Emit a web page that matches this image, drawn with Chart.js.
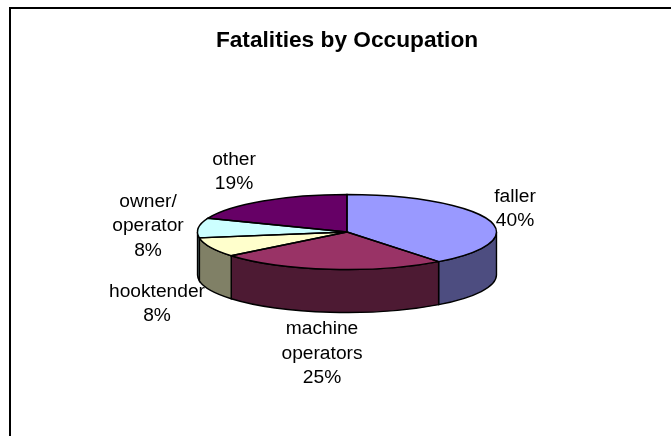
<!DOCTYPE html>
<html>
<head>
<meta charset="utf-8">
<title>Fatalities by Occupation</title>
<script src="https://cdn.jsdelivr.net/npm/chart.js@4"></script>
<style>
  html, body { margin: 0; padding: 0; background: #fff; overflow: hidden; }
  #frame { position: absolute; left: 9px; top: 7px; width: 680px; height: 450px;
           border-left: 2px solid #000; border-top: 2px solid #000; }
</style>
</head>
<body>
<div id="frame"><canvas id="pie" width="680" height="450"></canvas></div>
<script>
const categories = ['faller', 'machine operators', 'hooktender', 'owner/ operator', 'other'];
// they round to the printed percentages
const shares = [39.5, 24.6, 8.4, 8.5, 19];
const topColors = ['#9999FF', '#993366', '#FFFFCC', '#CCFFFF', '#660066'];
const sideColors = ['#4D4D80', '#4D1A33', '#808066', '#668080', '#330033'];
const labelLines = [['faller', '40%'], ['machine', 'operators', '25%'], ['hooktender', '8%'], ['owner/', 'operator', '8%'], ['other', '19%']];

// label block centres, in canvas pixels
const labelAnchors = [[504, 200], [311, 344.5], [146, 295], [137, 217], [223, 163]];

const RY = 37.5, DEPTH = 43;

function tracePie(ctx, el) {
  ctx.beginPath();
  ctx.moveTo(el.x, el.y);
  ctx.ellipse(el.x, el.y, el.outerRadius, RY, 0, el.startAngle, el.endAngle);
  ctx.closePath();
}

const pie3d = {
  id: 'pie3d',
  beforeDatasetDraw(chart) {
    const ctx = chart.ctx;
    const arcs = chart.getDatasetMeta(0).data;
    // side wall, only the front half of the ellipse shows
    arcs.forEach((el, i) => {
      const a = Math.max(el.startAngle, 0);
      const b = Math.min(el.endAngle, Math.PI);
      if (b <= a) return;
      const rx = el.outerRadius;
      ctx.beginPath();
      ctx.ellipse(el.x, el.y, rx, RY, 0, a, b);
      ctx.lineTo(el.x + rx * Math.cos(b), el.y + DEPTH + RY * Math.sin(b));
      ctx.ellipse(el.x, el.y + DEPTH, rx, RY, 0, b, a, true);
      ctx.closePath();
      ctx.fillStyle = sideColors[i];
      ctx.fill();
      ctx.lineWidth = 1.4;
      ctx.strokeStyle = '#000';
      ctx.stroke();
    });
    // library draws the top face, squashed into the ellipse
    const el = arcs[0];
    ctx.save();
    ctx.translate(el.x, el.y);
    ctx.scale(1, RY / el.outerRadius);
    ctx.translate(-el.x, -el.y);
  },
  afterDatasetDraw(chart) {
    const ctx = chart.ctx;
    ctx.restore();
    chart.getDatasetMeta(0).data.forEach(el => {
      tracePie(ctx, el);
      ctx.lineWidth = 1.4;
      ctx.strokeStyle = '#000';
      ctx.stroke();
    });
  },
  afterDraw(chart) {
    const ctx = chart.ctx;
    ctx.save();
    ctx.font = '19.2px "Liberation Sans"';
    ctx.fillStyle = '#000';
    ctx.textAlign = 'center';
    ctx.textBaseline = 'middle';
    labelLines.forEach((lines, i) => {
      const [x, y] = labelAnchors[i];
      lines.forEach((t, n) => {
        ctx.fillText(t, x, y + (n - (lines.length - 1) / 2) * 24.3);
      });
    });
    ctx.restore();
  }
};

new Chart(document.getElementById('pie'), {
  type: 'pie',
  data: {
    labels: categories,
    datasets: [{ data: shares, backgroundColor: topColors, borderWidth: 0 }]
  },
  options: {
    responsive: false,
    animation: false,
    // padding leaves a 299px square chart area, centre of the pie at 336,223
    layout: { padding: { left: 186.5, right: 194.5, top: 0, bottom: 77.5 } },
    plugins: {
      legend: { display: false },
      tooltip: { enabled: false },
      title: {
        display: true,
        text: 'Fatalities by Occupation',
        color: '#000',
        font: { family: '"Liberation Sans"', size: 22.7, weight: 'bold', lineHeight: 1.2 },
        padding: { top: 18.5, bottom: 27.8 }
      }
    }
  },
  plugins: [pie3d]
});
</script>
</body>
</html>
